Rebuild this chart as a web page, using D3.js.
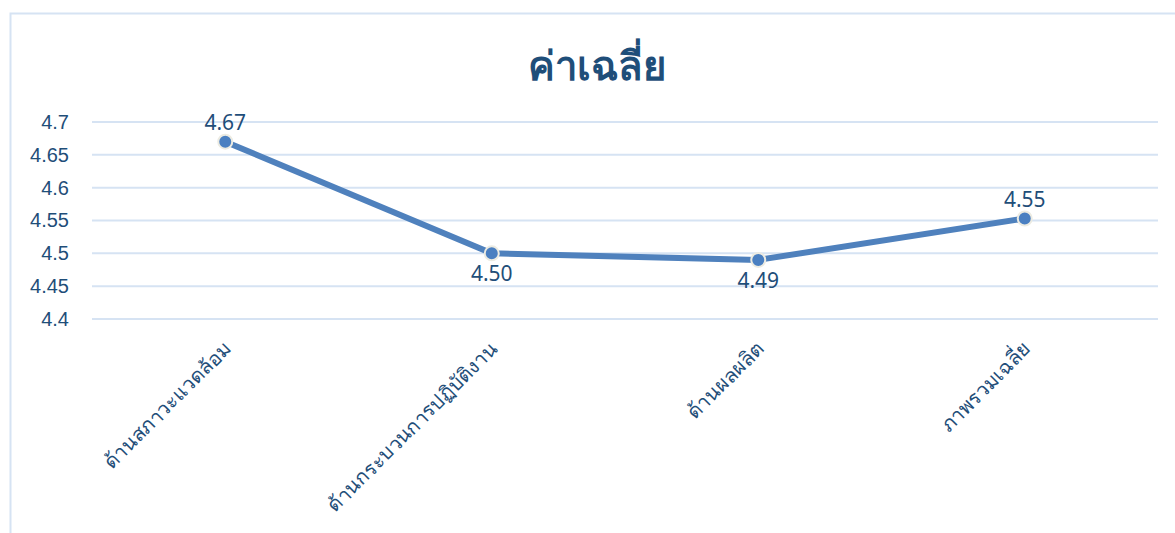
<!DOCTYPE html>
<html>
<head>
<meta charset="utf-8">
<script src="https://cdnjs.cloudflare.com/ajax/libs/d3/7.8.5/d3.min.js"></script>
<style>
  body { margin: 0; background: #fff; }
  svg { display: block; font-family: "Noto Sans", "Open Sans", sans-serif; }
</style>
</head>
<body>
<svg id="svg"></svg>
<script>
var categories = ["ด้านสภาวะแวดล้อม", "ด้านกระบวนการปฏิบัติงาน", "ด้านผลผลิต", "ภาพรวมเฉลี่ย"];
var values = [4.67, 4.50, 4.49, 4.553];
var valueLabels = ["4.67", "4.50", "4.49", "4.55"];
var labelSide = ["above", "below", "below", "above"];
var yTicks = [4.4, 4.45, 4.5, 4.55, 4.6, 4.65, 4.7];
var title = "ค่าเฉลี่ย";

var width = 1175, height = 533;
var textColor = "#1f4e79";
var lineColor = "#4f81bd";

var container = d3.select("#svg")
    .attr("width", width)
    .attr("height", height);

// chart border
container.append("rect")
    .attr("x", 10.5)
    .attr("y", 13.5)
    .attr("width", 1180)
    .attr("height", 540)
    .attr("fill", "none")
    .attr("stroke", "#d6e3f3")
    .attr("stroke-width", 2);

container.append("text")
    .attr("x", 597)
    .attr("y", 80)
    .attr("text-anchor", "middle")
    .attr("font-size", 40)
    .attr("font-weight", "bold")
    .attr("fill", textColor)
    .text(title);

var margin = {top: 122, left: 92};
var gwidth = 1066, gheight = 197;

var svg = container.append("g")
    .attr("transform", "translate(" + margin.left + "," + margin.top + ")");

var x = d3.scaleBand()
    .domain(categories)
    .range([0, gwidth]);

var y = d3.scaleLinear()
    .domain([4.4, 4.7])
    .range([gheight, 0]);

// gridlines
svg.append("g")
    .selectAll("line")
    .data(yTicks)
    .enter().append("line")
    .attr("x1", 0)
    .attr("x2", gwidth)
    .attr("y1", function(d) { return y(d); })
    .attr("y2", function(d) { return y(d); })
    .attr("stroke", "#d6e3f3")
    .attr("stroke-width", 2);

var yAxis = d3.axisLeft(y)
    .tickValues(yTicks)
    .tickSize(0)
    .tickPadding(23)
    .tickFormat(function(d) { return d3.format("")(+d.toFixed(2)); });

svg.append("g")
    .attr("class", "y axis")
    .call(yAxis)
    .call(function(g) { g.select(".domain").remove(); })
    .selectAll("text")
    .attr("font-size", 20)
    .attr("fill", textColor);

// x labels
svg.append("g")
    .selectAll("text")
    .data(categories)
    .enter().append("text")
    .attr("text-anchor", "end")
    .attr("font-size", 20)
    .attr("fill", textColor)
    .attr("transform", function(d) {
        return "translate(" + (x(d) + x.bandwidth() / 2 + 7) + "," + (gheight + 31) + ") rotate(-45)";
    })
    .text(function(d) { return d; });

var line = d3.line()
    .x(function(d, i) { return x(categories[i]) + x.bandwidth() / 2; })
    .y(function(d) { return y(d); });

svg.append("path")
    .datum(values)
    .attr("fill", "none")
    .attr("stroke", lineColor)
    .attr("stroke-width", 6)
    .attr("stroke-linejoin", "round")
    .attr("d", line);

svg.append("g")
    .selectAll("circle")
    .data(values)
    .enter().append("circle")
    .attr("cx", function(d, i) { return x(categories[i]) + x.bandwidth() / 2; })
    .attr("cy", function(d) { return y(d); })
    .attr("r", 7)
    .attr("fill", "#4a7fc1")
    .attr("stroke", "#ecebe2")
    .attr("stroke-width", 2);

svg.append("g")
    .selectAll("text")
    .data(values)
    .enter().append("text")
    .attr("x", function(d, i) { return x(categories[i]) + x.bandwidth() / 2; })
    .attr("y", function(d, i) { return y(d) + (labelSide[i] == "above" ? -12 : 28); })
    .attr("text-anchor", "middle")
    .attr("font-size", 21)
    .attr("fill", textColor)
    .text(function(d, i) { return valueLabels[i]; });
</script>
</body>
</html>
